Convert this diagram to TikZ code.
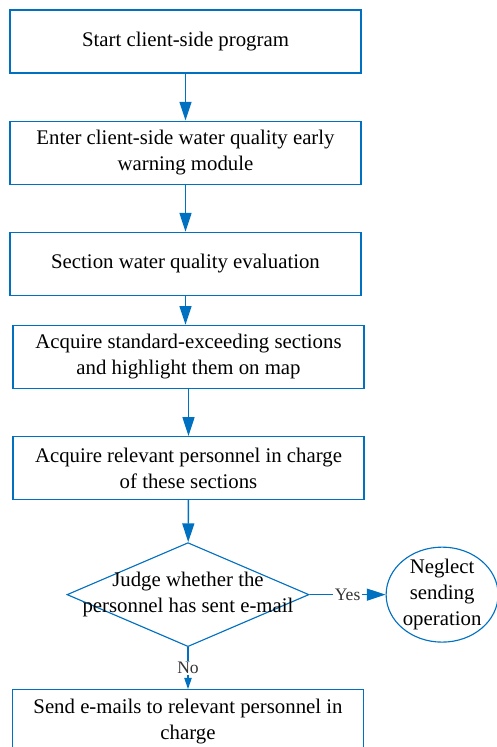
\documentclass[tikz,border=0pt]{standalone}
\usepackage{fontspec}
\setmainfont{Liberation Serif}
\usetikzlibrary{arrows.meta,positioning,shapes.geometric}
\definecolor{FlowBlue}{RGB}{0,112,192}

\begin{document}
\begin{tikzpicture}[>={Triangle[length=0.47cm, width=0.3cm]}, node distance=1.175cm,
    font=\fontsize{14.8}{18.5}\selectfont,
    box/.style={draw=FlowBlue, line width=0.8pt, minimum width=8.775cm, minimum height=1.575cm, inner sep=0pt, align=center},
    flow/.style={->, draw=FlowBlue, line width=1pt},
    tag/.style={fill=white, text=black!80, inner sep=1pt, font=\fontsize{12.5}{14}\selectfont}]
  \useasboundingbox (0,0) rectangle (12.4,-18.675);
  \node[box] (start) at (4.6375,-1.0375) {Start client-side program};
  \node[box, below=of start] (enter) {Enter client-side water quality early\\warning module};
  \node[box, below=of enter] (eval) {Section water quality evaluation};
  \node[box, below=0.725cm of eval, xshift=0.075cm] (acquire) {Acquire standard-exceeding sections\\and highlight them on map};
  \node[box, below=of acquire] (person) {Acquire relevant personnel in charge\\of these sections};
  \node[shape=diamond, draw=FlowBlue, line width=0.8pt, minimum width=6.05cm, minimum height=2.6cm, inner sep=0pt,
    below=1.05cm of person, xshift=-0.0125cm,
    label={[align=center]center:{Judge whether the\\personnel has sent e-mail}}] (judge) {};
  \node[shape=ellipse, draw=FlowBlue, line width=0.8pt, minimum width=2.8cm, minimum height=2.375cm, inner sep=0pt,
    right=1.9cm of judge, label={[align=center]center:{Neglect\\sending\\operation}}] (neglect) {};
  \node[box, below=1.05cm of judge] (send) {Send e-mails to relevant personnel in\\charge};
  % connectors
  \draw[flow] (start) -- (enter);
  \draw[flow] (enter) -- (eval);
  \draw[flow] (eval.south) -- (eval.south |- acquire.north);
  \draw[flow] (acquire) -- (person);
  \draw[flow] (person) -- (judge);
  \draw[flow] (judge.east) -- node[tag] {Yes} (neglect.west);
  \draw[flow, >={Triangle[length=0.28cm, width=0.18cm]}] (judge.south) -- node[tag] {No} (send.north);
\end{tikzpicture}
\end{document}
